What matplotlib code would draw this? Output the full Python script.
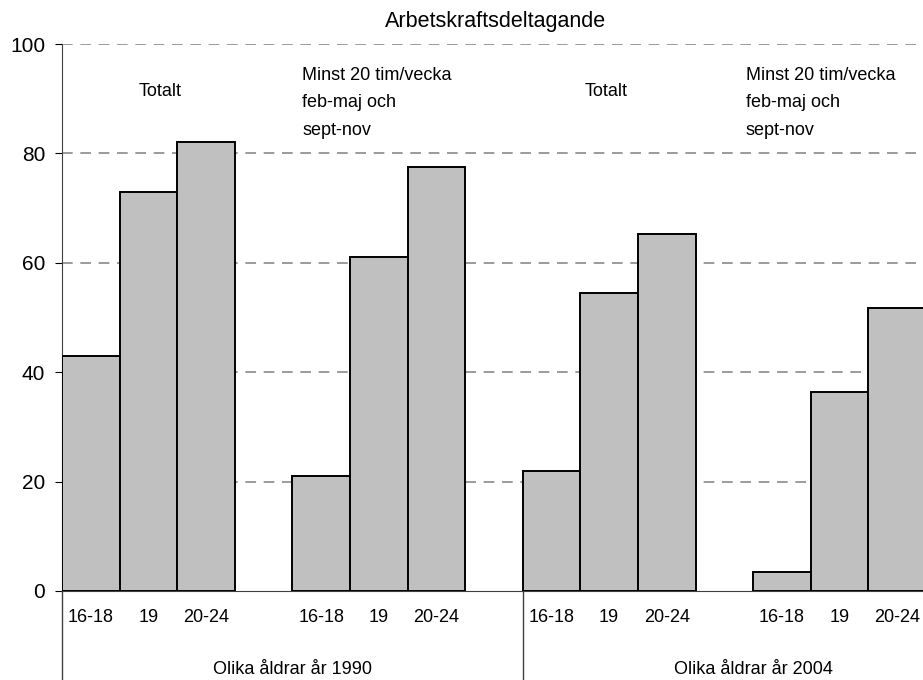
import matplotlib
matplotlib.use('Agg')
import matplotlib.pyplot as plt

plt.rcParams['font.family'] = ['Liberation Sans', 'DejaVu Sans']

ages = ['16-18', '19', '20-24']
groups = ['Olika åldrar år 1990', 'Olika åldrar år 2004']
tot_1990 = [43, 73, 82]
min20_1990 = [21, 61, 77.5]
tot_2004 = [22, 54.5, 65.3]
min20_2004 = [3.5, 36.3, 51.7]
yticks = [0, 20, 40, 60, 80, 100]

series = [tot_1990, min20_1990, tot_2004, min20_2004]

fig = plt.figure(figsize=(9.23, 6.8), dpi=100)
ax = fig.add_axes([62/923, 1-591/680, 1-62/923, (591-44)/680])

for g, vals in enumerate(series):
    xs = [g*4 + i for i in range(3)]
    ax.bar(xs, vals, width=1, align='edge', color='#c0c0c0',
           edgecolor='black', linewidth=1.4, zorder=3)
    for x, lab in zip(xs, ages):
        ax.text(x + 0.5, -0.048, lab, transform=ax.get_xaxis_transform(),
                ha='center', va='center', fontsize=13)

for k, lab in enumerate(groups):
    ax.text(4 + k*8, -0.143, lab, transform=ax.get_xaxis_transform(),
            ha='center', va='center', fontsize=13)

# vertical separators under the axis
for xv in [0, 8]:
    ax.plot([xv, xv], [0, -0.17], transform=ax.get_xaxis_transform(),
            color='#404040', linewidth=1, clip_on=False)

ax.text(1.7, 91.3, 'Totalt', ha='center', va='center', fontsize=13)
ax.text(9.45, 91.3, 'Totalt', ha='center', va='center', fontsize=13)
note = 'Minst 20 tim/vecka\nfeb-maj och\nsept-nov'
ax.text(4.17, 95.8, note, ha='left', va='top', fontsize=13, linespacing=1.8)
ax.text(11.87, 95.8, note, ha='left', va='top', fontsize=13, linespacing=1.8)

ax.set_xlim(0, 14.95)
ax.set_ylim(0, 100)
ax.set_yticks(yticks)
ax.tick_params(axis='y', labelsize=15, length=5, direction='out', pad=7)
ax.set_xticks([])
for yv in yticks[1:]:
    ax.axhline(yv, color='#808080', linewidth=1.1, linestyle=(0, (7, 5)), zorder=1)

ax.spines['top'].set_visible(False)
ax.spines['right'].set_visible(False)
ax.spines['left'].set_color('#404040')
ax.spines['bottom'].set_color('#404040')

fig.text(496/923, 1-21/680, 'Arbetskraftsdeltagande', ha='center', va='center', fontsize=15.5)

fig.savefig('out.png', dpi=100)
